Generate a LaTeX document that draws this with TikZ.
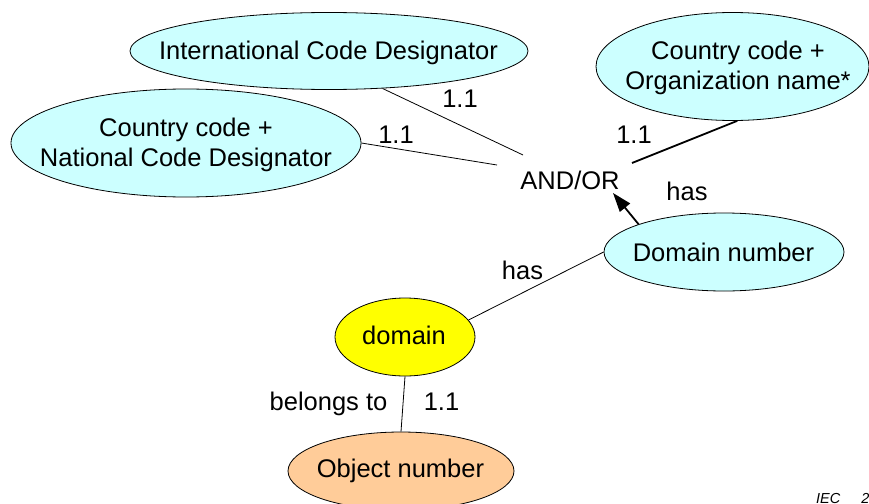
\documentclass[tikz,border=0pt]{standalone}
\usepackage{fontspec}
\setmainfont{Liberation Sans}
\usetikzlibrary{shapes.geometric,arrows.meta,calc}
\definecolor{entcyan}{HTML}{CCFFFF}
\definecolor{entyellow}{HTML}{FFFF00}
\definecolor{entpeach}{HTML}{FFCC99}
\begin{document}
\begin{tikzpicture}[x=1pt,y=-1pt,
  ent/.style={ellipse, draw, line width=0.8pt, inner sep=0pt},
  txt/.style={font=\fontsize{25.5}{30}\selectfont, inner sep=0pt, text depth=0pt},
  mtxt/.style={font=\fontsize{25.5}{30}\selectfont, inner sep=0pt, align=center,
               text height=48.3pt, text depth=0pt},
  conn/.style={line width=0.8pt},
  boldconn/.style={line width=1.8pt},
  arrowconn/.style={line width=1.8pt, -{Triangle[length=19pt,width=13pt]}}]
\useasboundingbox (0,0) rectangle (869,503);
\clip (0,0) rectangle (869,503);

% entity ellipses
\node[ent, fill=entcyan,   minimum width=398pt, minimum height=77pt]  (icd) at (329,51) {};
\node[ent, fill=entcyan,   minimum width=350pt, minimum height=108pt] (ncd) at (186,143) {};
\node[ent, fill=entcyan,   minimum width=273pt, minimum height=108pt] (org) at (732.5,66.5) {};
\node[ent, fill=entcyan,   minimum width=240pt, minimum height=78pt]  (dn)  at (724,252) {};
\node[ent, fill=entyellow, minimum width=140pt, minimum height=78pt]  (dom) at (405,337) {};
\node[ent, fill=entpeach,  minimum width=226pt, minimum height=78pt]  (obj) at (401,471) {};

% entity texts
\node[txt]  (icdt) at (328.5,50.5) {International Code Designator};
\node[mtxt] (ncdt) at (186,142)    {Country code +\\National Code Designator};
\node[mtxt] (orgt) at (738,65)     {Country code +\\Organization name*};
\node[txt]  (dnt)  at (723.5,252)  {Domain number};
\node[txt]  (domt) at (404,335.5)  {domain};
\node[txt]  (objt) at (400.5,468.5) {Object number};

% junction
\node[txt] (andor) at (570,180) {AND/OR};
\coordinate (jicd) at ($(andor)+(-47,-25)$);
\coordinate (jncd) at ($(andor)+(-73,-15)$);
\coordinate (jorg) at ($(andor)+(62,-17)$);
\coordinate (jdn)  at ($(andor)+(43,13)$);

% connectors
\draw[conn] (icd.-35) -- (jicd);
\draw[conn] (ncd.east) -- (jncd);
\draw[boldconn] (org.-85) -- (jorg);
\draw[arrowconn] (dn.162) -- (jdn);
\draw[conn] (dn.west) -- (dom.15);
\draw[conn] (dom.south) -- (obj.north);

% cardinalities and roles
\node[txt] (c1) at (460,98.5) {1.1};
\node[txt] (c2) at (396,135)  {1.1};
\node[txt] (c3) at (634,135)  {1.1};
\node[txt] (r1) at (687,191)  {has};
\node[txt] (r2) at (522.5,270.5) {has};
\node[txt] (r3) at (328.5,401) {belongs to};
\node[txt] (c4) at (441.5,402) {1.1};

% figure reference
\node[anchor=base west, inner sep=0pt, font=\fontsize{14.5}{17}\selectfont\itshape]
  (ref) at (816,503) {IEC\hspace{21pt}2};
\end{tikzpicture}
\end{document}
